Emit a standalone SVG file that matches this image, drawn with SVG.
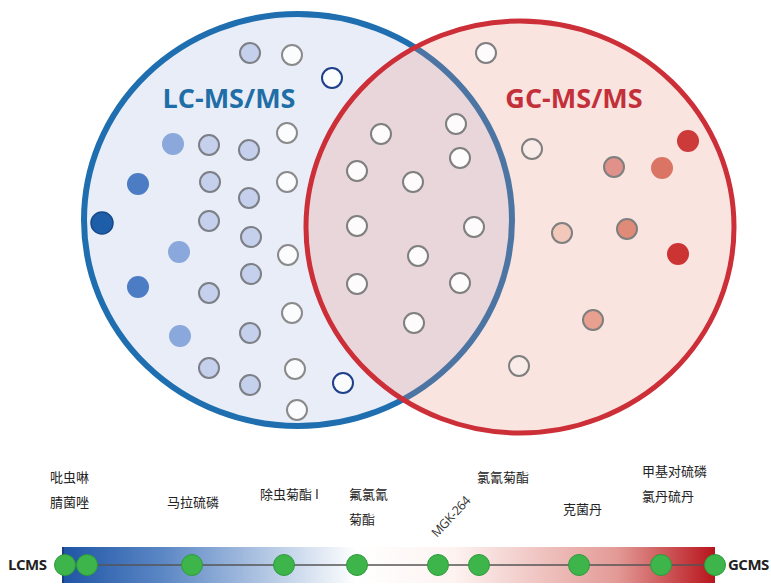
<svg xmlns="http://www.w3.org/2000/svg" width="771" height="585" viewBox="0 0 771 585">
<defs>
<linearGradient id="bar" x1="0" y1="0" x2="1" y2="0">
<stop offset="0" stop-color="#1f55a6"/>
<stop offset="0.15" stop-color="#5a86c4"/>
<stop offset="0.45" stop-color="#ffffff"/>
<stop offset="0.6" stop-color="#fdf3f1"/>
<stop offset="0.85" stop-color="#e39a96"/>
<stop offset="1" stop-color="#b8141c"/>
</linearGradient>
</defs>
<style>
.lb{fill:#c5d1ec;stroke:#7d7f86;stroke-width:2}
.wg{fill:#fbfcfe;stroke:#8a8a8a;stroke-width:2}
.wn{fill:#fbfcfe;stroke:#1e3f8a;stroke-width:2}
.wi{fill:#fdfbfb;stroke:#7f7f7f;stroke-width:2}
.gd{fill:#3db54a;stroke:#2e9a3c;stroke-width:1}
.cn{font-family:"Noto Sans CJK SC","Noto Sans",sans-serif;font-size:13px;fill:#222}
.end{font-family:"Open Sans","Liberation Sans",sans-serif;font-size:15px;font-weight:700;fill:#222}
.title{font-family:"Open Sans","Liberation Sans",sans-serif;font-size:27px;font-weight:700}
</style>
<rect width="771" height="585" fill="#ffffff"/>
<g id="lcms-set">
<ellipse cx="298" cy="220" rx="214" ry="206" fill="#e9edf7" stroke="#1f6fb0" stroke-width="6"/>
</g>
<g id="gcms-set">
<ellipse cx="520" cy="227" rx="214" ry="206" fill="rgb(230,139,122)" fill-opacity="0.23" stroke="none"/>
<ellipse cx="520" cy="227" rx="214" ry="206" fill="none" stroke="#cc2f37" stroke-width="5"/>
</g>
<g id="titles">
<text class="title" x="229" y="108" text-anchor="middle" fill="#1f6ea8">LC-MS/MS</text>
<text class="title" x="574" y="108" text-anchor="middle" fill="#c4303a">GC-MS/MS</text>
</g>
<g id="lc-dots">
<circle class="lb" cx="250" cy="53" r="10"/>
<circle class="wg" cx="292" cy="55" r="10"/>
<circle class="wn" cx="332" cy="78" r="10"/>
<circle class="wg" cx="287" cy="133" r="10"/>
<circle cx="173" cy="144" r="11" fill="#8aa8dc"/>
<circle class="lb" cx="209" cy="145" r="10"/>
<circle class="lb" cx="249" cy="150" r="10"/>
<circle cx="138" cy="184" r="11" fill="#4b7cc4"/>
<circle class="lb" cx="210" cy="182" r="10"/>
<circle class="wg" cx="287" cy="182" r="10"/>
<circle class="lb" cx="249" cy="198" r="10"/>
<circle cx="102" cy="223" r="11" fill="#1e5ea8" stroke="#174a8a" stroke-width="1.5"/>
<circle class="lb" cx="209" cy="221" r="10"/>
<circle class="lb" cx="251" cy="237" r="10"/>
<circle cx="179" cy="252" r="11" fill="#8aa8dc"/>
<circle class="wg" cx="288" cy="255" r="10"/>
<circle cx="138" cy="287" r="11" fill="#4b7cc4"/>
<circle class="lb" cx="251" cy="274" r="10"/>
<circle class="lb" cx="209" cy="293" r="10"/>
<circle class="wg" cx="292" cy="313" r="10"/>
<circle cx="180" cy="336" r="11" fill="#8aa8dc"/>
<circle class="lb" cx="250" cy="333" r="10"/>
<circle class="lb" cx="209" cy="368" r="10"/>
<circle class="wg" cx="295" cy="369" r="10"/>
<circle class="lb" cx="250" cy="385" r="10"/>
<circle class="wn" cx="343" cy="383" r="10"/>
<circle class="wg" cx="297" cy="410" r="10"/>
</g>
<g id="shared-dots">
<circle class="wi" cx="381" cy="134" r="10"/>
<circle class="wi" cx="456" cy="124" r="10"/>
<circle class="wi" cx="460" cy="158" r="10"/>
<circle class="wi" cx="357" cy="171" r="10"/>
<circle class="wi" cx="413" cy="182" r="10"/>
<circle class="wi" cx="357" cy="226" r="10"/>
<circle class="wi" cx="474" cy="227" r="10"/>
<circle class="wi" cx="418" cy="256" r="10"/>
<circle class="wi" cx="357" cy="284" r="10"/>
<circle class="wi" cx="460" cy="283" r="10"/>
<circle class="wi" cx="414" cy="323" r="10"/>
</g>
<g id="gc-dots">
<circle class="wi" cx="486" cy="53" r="10"/>
<circle cx="532" cy="149" r="10" fill="#f8ebe8" stroke="#7f7f7f" stroke-width="2"/>
<circle cx="614" cy="167" r="10" fill="#e0928a" stroke="#7f7f7f" stroke-width="2"/>
<circle cx="662" cy="168" r="11" fill="#da7566"/>
<circle cx="688" cy="141" r="11" fill="#cc3a3a"/>
<circle cx="562" cy="233" r="10" fill="#f2c8bb" stroke="#7f7f7f" stroke-width="2"/>
<circle cx="627" cy="229" r="10" fill="#e08a78" stroke="#7f7f7f" stroke-width="2"/>
<circle cx="678" cy="254" r="11" fill="#cc3333"/>
<circle cx="593" cy="320" r="10" fill="#eaa090" stroke="#7f7f7f" stroke-width="2"/>
<circle cx="519" cy="366" r="10" fill="#f8ebe8" stroke="#7f7f7f" stroke-width="2"/>
</g>
<g id="scale-bar">
<rect x="63" y="547" width="652" height="36" fill="url(#bar)"/>
<line x1="63" y1="547" x2="63" y2="583" stroke="#1a3f80" stroke-width="2"/>
</g>
<g id="connectors">
<line x1="63" y1="565" x2="715" y2="565" stroke="#555" stroke-width="1.5"/>
</g>
<g id="scale-points">
<circle class="gd" cx="65" cy="565" r="10.5"/>
<circle class="gd" cx="87" cy="565" r="10.5"/>
<circle class="gd" cx="192" cy="565" r="10.5"/>
<circle class="gd" cx="284" cy="565" r="10.5"/>
<circle class="gd" cx="357" cy="565" r="10.5"/>
<circle class="gd" cx="438" cy="565" r="10.5"/>
<circle class="gd" cx="479" cy="565" r="10.5"/>
<circle class="gd" cx="579" cy="565" r="10.5"/>
<circle class="gd" cx="661" cy="565" r="10.5"/>
<circle class="gd" cx="715" cy="565" r="10.5"/>
</g>
<g id="scale-labels">
<text class="end" x="8" y="570" letter-spacing="-0.5">LCMS</text>
<text class="end" x="728" y="570" letter-spacing="-0.5">GCMS</text>
<text class="cn" x="50" y="482">吡虫啉</text>
<text class="cn" x="50" y="507">腈菌唑</text>
<text class="cn" x="167" y="507">马拉硫磷</text>
<text class="cn" x="260" y="499">除虫菊酯 I</text>
<text class="cn" x="349" y="499">氟氯氰</text>
<text class="cn" x="349" y="524">菊酯</text>
<text class="cn" x="477" y="482">氯氰菊酯</text>
<text font-family="Open Sans, Liberation Sans, sans-serif" font-size="12.5" fill="#333" letter-spacing="-0.5" transform="translate(437,538) rotate(-47)">MGK-264</text>
<text class="cn" x="563" y="514">克菌丹</text>
<text class="cn" x="642" y="476">甲基对硫磷</text>
<text class="cn" x="642" y="501">氯丹硫丹</text>
</g>
</svg>
